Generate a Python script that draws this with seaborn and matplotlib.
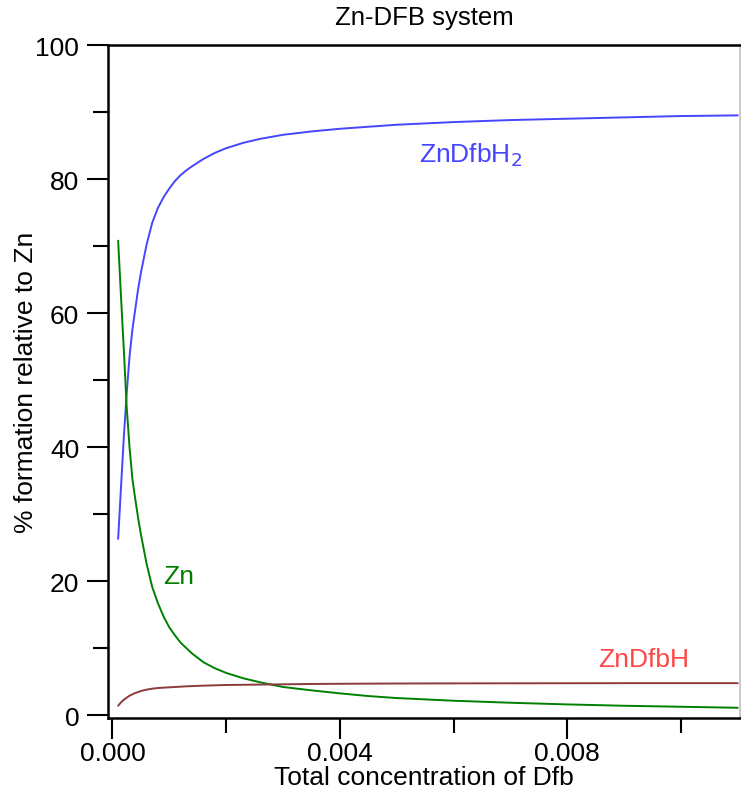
import matplotlib
matplotlib.use("Agg")
import matplotlib.pyplot as plt
import seaborn as sns
import pandas as pd
from matplotlib.ticker import MultipleLocator, FormatStrFormatter

# total concentration of Dfb (M)
conc = [0.0001, 0.00015, 0.0002, 0.00025, 0.0003, 0.00035, 0.0004, 0.00045, 0.0005,
        0.0006, 0.0007, 0.0008, 0.0009, 0.001, 0.0011, 0.0012, 0.0013, 0.0014,
        0.0016, 0.0018, 0.002, 0.0023, 0.0026, 0.003, 0.0035, 0.004, 0.0045,
        0.005, 0.006, 0.007, 0.008, 0.009, 0.01, 0.011]
zn_dfbh2 = [26.3, 34.0, 41.5, 48.0, 53.5, 57.5, 60.5, 63.5, 66.0, 70.2, 73.5, 75.7,
            77.3, 78.6, 79.7, 80.6, 81.3, 81.9, 83.0, 83.9, 84.6, 85.4, 86.0, 86.6,
            87.1, 87.5, 87.8, 88.1, 88.5, 88.8, 89.0, 89.2, 89.4, 89.5]
zn_free = [70.8, 62.5, 54.5, 46.0, 40.0, 35.3, 32.3, 29.5, 27.0, 22.6, 19.1, 16.7,
           14.7, 13.1, 11.9, 10.8, 10.0, 9.2, 7.9, 7.0, 6.3, 5.5, 4.9, 4.2, 3.7,
           3.25, 2.85, 2.55, 2.15, 1.85, 1.6, 1.4, 1.25, 1.1]
zn_dfbh = [1.4, 1.9, 2.3, 2.6, 2.9, 3.1, 3.3, 3.45, 3.6, 3.8, 3.95, 4.05, 4.1, 4.15,
           4.2, 4.25, 4.3, 4.33, 4.4, 4.45, 4.5, 4.53, 4.56, 4.6, 4.65, 4.68, 4.7,
           4.72, 4.74, 4.75, 4.76, 4.77, 4.77, 4.77]

species = ["ZnDfbH2", "Zn", "ZnDfbH"]
line_colors = {"ZnDfbH2": "#4646ff", "Zn": "#008000", "ZnDfbH": "#8c3c3c"}

df = pd.concat([
    pd.DataFrame({"conc": conc, "pct": zn_dfbh2, "species": "ZnDfbH2"}),
    pd.DataFrame({"conc": conc, "pct": zn_free, "species": "Zn"}),
    pd.DataFrame({"conc": conc, "pct": zn_dfbh, "species": "ZnDfbH"}),
], ignore_index=True)

sns.set_style("ticks")
plt.rcParams["font.family"] = ["Liberation Sans", "DejaVu Sans"]
plt.rcParams["text.color"] = "black"
plt.rcParams["axes.labelcolor"] = "black"

fig = plt.figure(figsize=(7.41, 8.03), dpi=100)
ax = fig.add_axes([0.1464, 0.104, 0.8523, 0.8387])

sns.lineplot(data=df, x="conc", y="pct", hue="species", palette=line_colors,
             hue_order=species, legend=False, linewidth=1.4, ax=ax, sort=False)

ax.set_xlim(-0.00007, 0.01104)
ax.set_ylim(-0.5, 100)
ax.xaxis.set_major_locator(MultipleLocator(0.004))
ax.xaxis.set_minor_locator(MultipleLocator(0.002))
ax.xaxis.set_major_formatter(FormatStrFormatter("%.3f"))
ax.yaxis.set_major_locator(MultipleLocator(20))
ax.yaxis.set_minor_locator(MultipleLocator(10))

ax.tick_params(axis="both", which="major", length=15, width=1.5, labelsize=19,
               pad=6, color="black", labelcolor="black")
ax.tick_params(axis="x", which="major", pad=1)
ax.tick_params(axis="both", which="minor", length=11, width=1.5, color="black")

for s in ["left", "bottom", "top"]:
    ax.spines[s].set_color("black")
    ax.spines[s].set_linewidth(1.8)
ax.spines["right"].set_color("#c0c0c0")
ax.spines["right"].set_linewidth(1.2)

ax.set_xlabel("Total concentration of Dfb", fontsize=19, labelpad=0)
ax.set_ylabel("% formation relative to Zn", fontsize=19, labelpad=-2)
ax.set_title("Zn-DFB system", fontsize=18.5, pad=15, color="black")

ax.text(0.00539, 83.7, r"ZnDfbH$_2$", color="#4646ff", fontsize=19,
        ha="left", va="center")
ax.text(0.00090, 20.8, "Zn", color="#008000", fontsize=19, ha="left", va="center")
ax.text(0.00854, 8.4, "ZnDfbH", color="#ff4646", fontsize=19, ha="left", va="center")

fig.savefig("out.png", dpi=100)
